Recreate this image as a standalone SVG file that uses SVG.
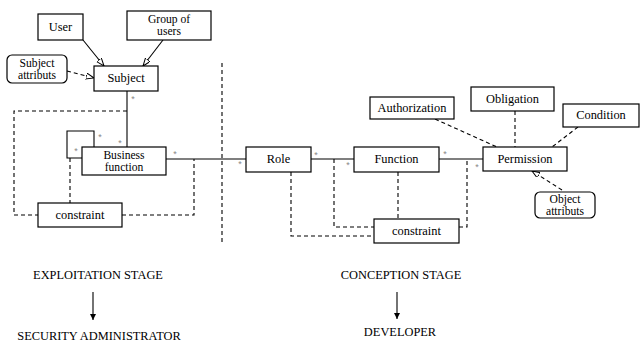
<svg xmlns="http://www.w3.org/2000/svg" width="642" height="343" viewBox="0 0 642 343">
<style>
.box{fill:#fff;stroke:#000;stroke-width:1.2}
.t{font-family:"Liberation Serif","Times New Roman",serif;font-size:12.4px;fill:#000;text-anchor:middle}
.t2{font-family:"Liberation Serif","Times New Roman",serif;font-size:11.6px;fill:#000;text-anchor:middle}
.s{font-family:"Liberation Sans",Arial,sans-serif;font-size:9px;fill:#888;text-anchor:middle}
.ln{fill:none;stroke:#000;stroke-width:1.1}
.dl{fill:none;stroke:#000;stroke-width:1.1;stroke-dasharray:4,3}
</style>
<defs>
<marker id="open" markerUnits="userSpaceOnUse" markerWidth="10" markerHeight="8" refX="8" refY="3" orient="auto">
<path d="M0,0 L8,3 L0,6 z" fill="#fff" stroke="#000" stroke-width="1"/>
</marker>
<marker id="arr" markerUnits="userSpaceOnUse" markerWidth="8" markerHeight="8" refX="6" refY="3" orient="auto">
<path d="M0,0 L6,3 L0,6 z" fill="#000"/>
</marker>
</defs>
<g id="connectors">
<line class="dl" x1="222" y1="63" x2="222" y2="243"/>
<line class="ln" x1="83" y1="40" x2="104" y2="66" marker-end="url(#open)"/>
<line class="ln" x1="163" y1="40" x2="143" y2="66" marker-end="url(#open)"/>
<line class="dl" x1="67" y1="71" x2="94" y2="78" marker-end="url(#open)"/>
<line class="ln" x1="127" y1="91" x2="127" y2="147"/>
<path class="dl" d="M127,111 H14 V215 H38"/>
<path class="dl" d="M122,215 H194 V159"/>
<path class="ln" d="M94,147 V131 H67 V158 H82"/>
<line class="dl" x1="70" y1="158" x2="70" y2="203"/>
<line class="ln" x1="166" y1="159" x2="246" y2="159"/>
<line class="ln" x1="311" y1="159" x2="354" y2="159"/>
<line class="ln" x1="439" y1="159" x2="483" y2="159"/>
<path class="dl" d="M291,172 V236 H374"/>
<path class="dl" d="M334,159 V227 H374"/>
<line class="dl" x1="398" y1="172" x2="398" y2="219"/>
<path class="dl" d="M459,227 H467 V159"/>
<line class="dl" x1="435" y1="119" x2="497" y2="147"/>
<line class="dl" x1="515" y1="111" x2="515" y2="147"/>
<line class="dl" x1="578" y1="127" x2="552" y2="147"/>
<line class="dl" x1="562" y1="190" x2="532" y2="171" marker-end="url(#open)"/>
<line class="ln" x1="93" y1="292" x2="93" y2="320" marker-end="url(#arr)"/>
<line class="ln" x1="397" y1="292" x2="397" y2="319" marker-end="url(#arr)"/>
</g>
<g id="stars">
<text class="s" x="133" y="102">*</text>
<text class="s" x="100" y="140">*</text>
<text class="s" x="120" y="146">*</text>
<text class="s" x="76" y="154">*</text>
<text class="s" x="175" y="157">*</text>
<text class="s" x="240" y="167">*</text>
<text class="s" x="316" y="158">*</text>
<text class="s" x="348" y="168">*</text>
<text class="s" x="445" y="157">*</text>
<text class="s" x="477" y="170">*</text>
</g>
<g id="user"><rect class="box" x="38" y="14" width="45" height="26"/><text class="t" x="60.5" y="31">User</text></g>
<g id="group"><rect class="box" x="127" y="11" width="84" height="29"/><text class="t2" x="169" y="22.5">Group of</text><text class="t2" x="169" y="35">users</text></g>
<g id="subject"><rect class="box" x="94" y="66" width="64" height="25"/><text class="t" x="126" y="82">Subject</text></g>
<g id="subjattr"><rect class="box" x="7" y="55" width="60" height="28" rx="5"/><text class="t2" x="37" y="66.5">Subject</text><text class="t2" x="37" y="79">attributs</text></g>
<g id="business"><rect class="box" x="82" y="147" width="84" height="28"/><text class="t2" x="124" y="158.5">Business</text><text class="t2" x="124" y="171">function</text></g>
<g id="constraint1"><rect class="box" x="38" y="203" width="84" height="24"/><text class="t" x="80" y="219">constraint</text></g>
<g id="role"><rect class="box" x="246" y="147" width="65" height="25"/><text class="t" x="278.5" y="163">Role</text></g>
<g id="function"><rect class="box" x="354" y="147" width="85" height="25"/><text class="t" x="396.5" y="163">Function</text></g>
<g id="constraint2"><rect class="box" x="374" y="219" width="85" height="24"/><text class="t" x="416.5" y="235">constraint</text></g>
<g id="permission"><rect class="box" x="483" y="147" width="84" height="24"/><text class="t" x="525" y="163">Permission</text></g>
<g id="authorization"><rect class="box" x="370" y="97" width="84" height="22"/><text class="t" x="412" y="112">Authorization</text></g>
<g id="obligation"><rect class="box" x="471" y="87" width="83" height="24"/><text class="t" x="512.5" y="103">Obligation</text></g>
<g id="condition"><rect class="box" x="563" y="104" width="76" height="23"/><text class="t" x="601" y="119">Condition</text></g>
<g id="objattr"><rect class="box" x="535" y="192" width="60" height="26" rx="5"/><text class="t2" x="565" y="202.5">Object</text><text class="t2" x="565" y="215">attributs</text></g>
<g id="stages">
<text class="t" x="98" y="279">EXPLOITATION STAGE</text>
<text class="t" x="99" y="340">SECURITY ADMINISTRATOR</text>
<text class="t" x="401" y="279">CONCEPTION STAGE</text>
<text class="t" x="400" y="336">DEVELOPER</text>
</g>
</svg>
